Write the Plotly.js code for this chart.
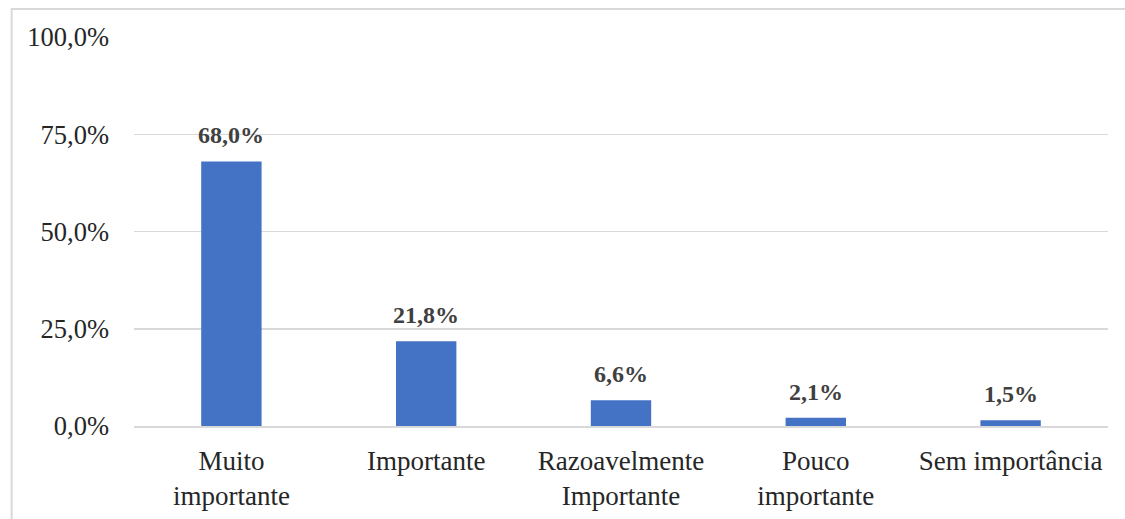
<!DOCTYPE html>
<html><head><meta charset="utf-8">
<script src="https://cdn.plot.ly/plotly-3.0.1.min.js"></script>
<style>
html,body{margin:0;padding:0;background:#fff;overflow:hidden}
#chart{width:1125px;height:519px}
</style></head>
<body>
<div id="chart"></div>
<script>
const categories = ["Muito<br>importante","Importante","Razoavelmente<br>Importante","Pouco<br>importante","Sem importância"];
const values = [68.0, 21.8, 6.6, 2.1, 1.5];
const tickVals = [0, 25, 50, 75, 100];
const tickText = ["0,0%", "25,0%", "50,0%", "75,0%", "100,0%"];

const font = "Liberation Serif, Times New Roman, serif";
const trace = {
  type: 'bar', x: categories, y: values,
  marker: {color: '#4472C4'}, width: 0.31, hoverinfo: 'none'
};
const annotations = categories.map((c, i) => ({
  x: c, y: values[i], xref: 'x', yref: 'y', yanchor: 'bottom',
  text: '<b>' + values[i].toFixed(1).replace('.', ',') + '%</b>',
  showarrow: false, yshift: 11,
  font: {family: font, size: 24, color: '#404040'}
}));
const L = 133.5, R = 16.5, T = 37, B = 93, W = 1125, H = 519;
const pw = W - L - R, ph = H - T - B;
const layout = {
  width: W, height: H,
  margin: {l: L, r: R, t: T, b: B},
  paper_bgcolor: '#fff', plot_bgcolor: '#fff',
  separators: ',.',
  showlegend: false,
  font: {family: font, size: 26, color: '#262626'},
  xaxis: {
    showgrid: false, showline: true, linecolor: '#d9d9d9', linewidth: 1.5,
    ticks: '', tickfont: {family: font, size: 27, color: '#262626'},
    ticklabelstandoff: 10
  },
  yaxis: {
    range: [0, 100], tickmode: 'array', tickvals: tickVals, ticktext: tickText,
    showgrid: true, gridcolor: '#d9d9d9', gridwidth: 1.5, zeroline: false,
    showline: false, ticks: '', ticklabelstandoff: 24,
    tickfont: {family: font, size: 26.5, color: '#262626'}
  },
  shapes: [{
    type: 'rect', xref: 'paper', yref: 'paper', layer: 'below',
    x0: (11 - L) / pw, x1: (1300 - L) / pw,
    y0: -(200) / ph, y1: 1 + (T - 9) / ph,
    line: {color: '#d9d9d9', width: 2}, fillcolor: 'rgba(0,0,0,0)'
  }],
  annotations: annotations
};
Plotly.newPlot('chart', [trace], layout, {staticPlot: true, displayModeBar: false});
</script>
</body></html>
